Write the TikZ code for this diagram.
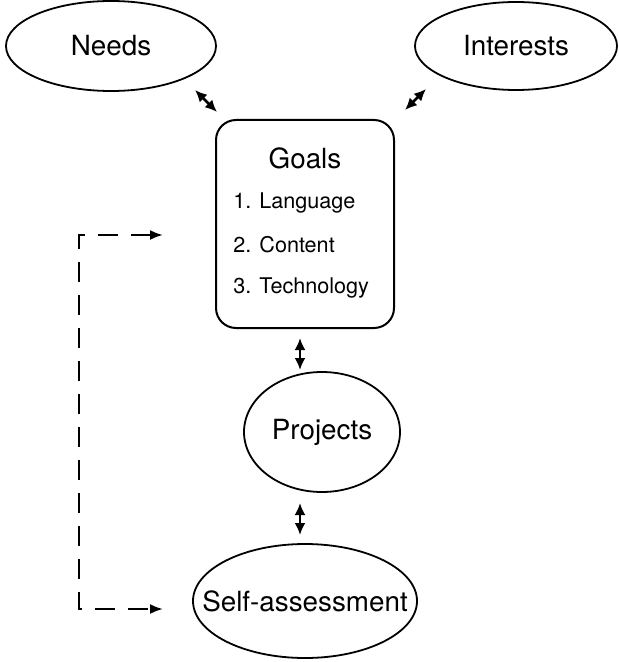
\documentclass[tikz,border=0pt]{standalone}
\usepackage{fontspec}
\setmainfont{TeX Gyre Heros}
\usetikzlibrary{shapes.geometric,arrows.meta}
\begin{document}
\begin{tikzpicture}[x=0.5pt,y=-0.5pt,
  oval/.style={draw,ellipse,line width=0.9pt,inner sep=0pt},
  big/.style={font=\fontsize{13.9}{16}\selectfont,inner sep=0pt},
  item/.style={font=\fontsize{10.8}{13}\selectfont,inner sep=0pt,anchor=west},
  dbl/.style={{Latex[length=6pt,width=5.5pt]}-{Latex[length=6pt,width=5.5pt]},line width=1.3pt},
  dashconn/.style={{Latex[length=6.5pt,width=5pt]}-{Latex[length=6.5pt,width=5pt]},line width=1.1pt,dash pattern=on 10pt off 6.5pt}]
\useasboundingbox (0,0) rectangle (618,662);
\node[oval,minimum width=105pt,minimum height=45pt] (needs) at (111,46) {};
\node[big] (needst) at (needs) {Needs};
\node[oval,minimum width=101pt,minimum height=44pt] (interests) at (516,46) {};
\node[big] (interestst) at (interests) {Interests};
\node[draw,rounded corners=10pt,line width=1pt,minimum width=89pt,minimum height=104pt] (goals) at (305,224) {};
\node[big] (goalstitle) at (305,158) {Goals};
\node[item] (g1) at (233,203) {1. Language};
\node[item] (g2) at (233,245) {2. Content};
\node[item] (g3) at (233,288) {3. Technology};
\node[oval,minimum width=78pt,minimum height=60pt] (projects) at (322,432) {};
\node[big] (projectst) at (projects) {Projects};
\node[oval,minimum width=112pt,minimum height=57pt] (self) at (305,601) {};
\node[big] (selft) at (self) {Self-assessment};
\coordinate (a1) at (195,90);  \coordinate (b1) at (217,112);
\coordinate (a2) at (426,89);  \coordinate (b2) at (405,110);
\coordinate (a3) at (300,338); \coordinate (b3) at (300,370);
\coordinate (a4) at (300,503); \coordinate (b4) at (300,535);
\draw[dbl] (a1) -- (b1);
\draw[dbl] (a2) -- (b2);
\draw[dbl] (a3) -- (b3);
\draw[dbl] (a4) -- (b4);
\coordinate (dtop) at (163,235);
\coordinate (dbot) at (163,609);
\draw[dashconn] (dtop) -- (79,235) |- (dbot);
\end{tikzpicture}
\end{document}
